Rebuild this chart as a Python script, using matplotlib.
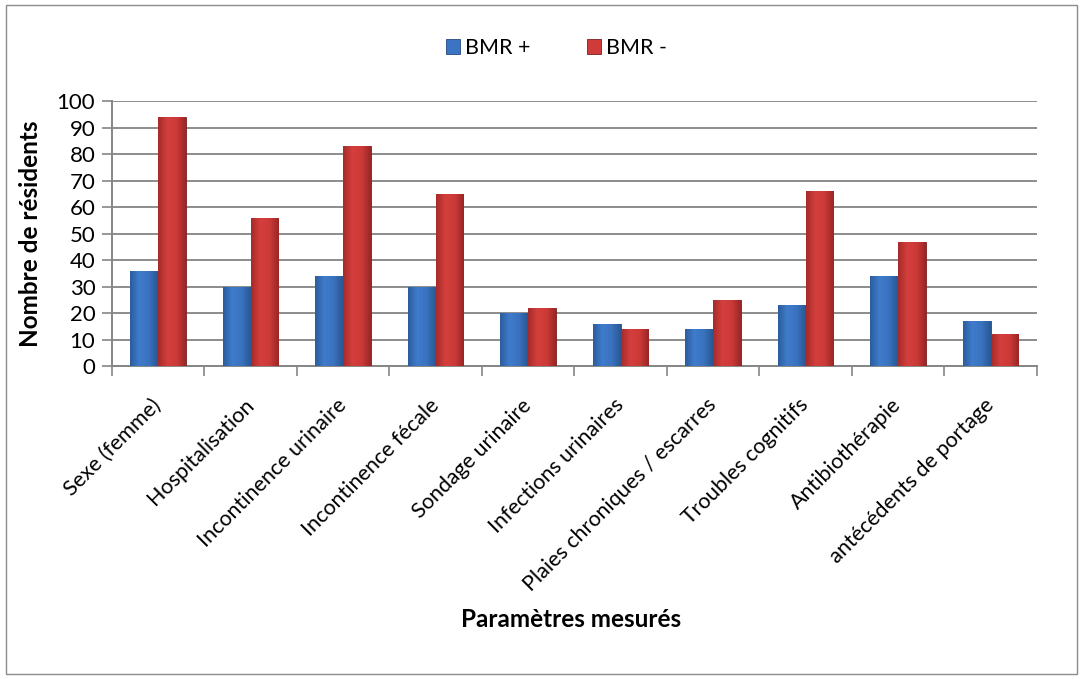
import matplotlib.pyplot as plt
import numpy as np
from matplotlib.colors import LinearSegmentedColormap
from matplotlib.patches import Rectangle

plt.rcParams["font.family"] = ["Lato", "DejaVu Sans"]

categories = [
    "Sexe (femme)",
    "Hospitalisation",
    "Incontinence urinaire",
    "Incontinence fécale",
    "Sondage urinaire",
    "Infections urinaires",
    "Plaies chroniques / escarres",
    "Troubles cognitifs",
    "Antibiothérapie",
    "antécédents de portage",
]
bmr_plus = [36, 30, 34, 30, 20, 16, 14, 23, 34, 17]
bmr_minus = [94, 56, 83, 65, 22, 14, 25, 66, 47, 12]
y_ticks = list(range(0, 101, 10))

fs = 15.5

fig = plt.figure(figsize=(10.83, 6.79), dpi=100)
ax = fig.add_axes([0.1034, 0.461, 0.8541, 0.390])

x = np.arange(len(categories))
w = 0.3
blue_cmap = LinearSegmentedColormap.from_list("b", ["#2c5d9e", "#3f7ccb", "#3a73bf", "#295894"])
red_cmap = LinearSegmentedColormap.from_list("r", ["#a52b2a", "#d43f3d", "#cc3a38", "#9a2626"])
grad = np.linspace(0, 1, 64).reshape(1, -1)

bars_p = ax.bar(x - w / 2, bmr_plus, w, color="#3b74c2", edgecolor="#234a80", linewidth=0.6,
                label="BMR +", zorder=3)
bars_m = ax.bar(x + w / 2, bmr_minus, w, color="#cf3b39", edgecolor="#7a1e1e", linewidth=0.6,
                label="BMR -", zorder=3)
# light gradient across each bar, clipped to the bar
for bars, cmap in ((bars_p, blue_cmap), (bars_m, red_cmap)):
    for b in bars:
        x0, y0 = b.get_x(), b.get_y()
        im = ax.imshow(grad, cmap=cmap, aspect="auto", zorder=3.5,
                       extent=(x0, x0 + b.get_width(), y0, y0 + b.get_height()))
        im.set_clip_path(b)

ax.set_xlim(-0.5, len(categories) - 0.5)
ax.set_ylim(0, 100)
ax.set_yticks(y_ticks)
ax.tick_params(axis="y", labelsize=16, length=7, color="#868686", width=1.2, pad=5)
ax.yaxis.grid(True, color="#8c8c8c", linewidth=1.4, zorder=0)
ax.set_axisbelow(True)

ax.set_xticks(x)
ax.set_xticklabels(categories, rotation=45, ha="right", va="center",
                   rotation_mode="anchor", fontsize=fs)
ax.tick_params(axis="x", length=0, pad=26)
ax.set_xticks(np.arange(-0.5, len(categories)), minor=True)
ax.tick_params(axis="x", which="minor", length=7, color="#868686", width=1.2)

for side in ("top", "right"):
    ax.spines[side].set_visible(False)
for side in ("left", "bottom"):
    ax.spines[side].set_color("#868686")
    ax.spines[side].set_linewidth(1.4)

ax.set_ylabel("Nombre de résidents", fontsize=17.5, fontweight="bold")
ax.yaxis.set_label_coords(-0.076, 0.5)
fig.text(0.527, 0.076, "Paramètres mesurés", fontsize=17.5, fontweight="bold", ha="center")

fig.legend(loc="center", bbox_to_anchor=(0.514, 0.929), ncol=2, frameon=False,
           fontsize=fs, handlelength=0.65, handleheight=0.65, columnspacing=2.6,
           handletextpad=0.25)

fig.patches.append(Rectangle((0.006, 0.008), 0.988, 0.984, transform=fig.transFigure,
                             fill=False, edgecolor="#8c8c8c", linewidth=1))

fig.savefig("out.png", dpi=100)
